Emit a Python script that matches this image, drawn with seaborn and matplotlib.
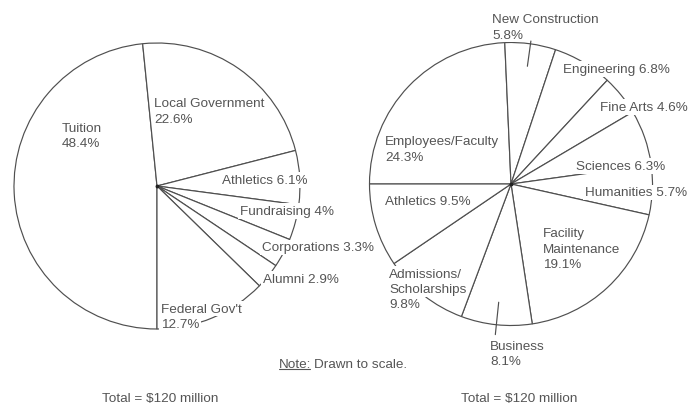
import matplotlib
matplotlib.use("Agg")
import matplotlib.pyplot as plt
import seaborn as sns
import numpy as np

# ---- data -------------------------------------------------------------
# Where the money comes from (percent of total)
income_names = ["Tuition", "Local Government", "Athletics", "Fundraising",
                "Corporations", "Alumni", "Federal Gov't"]
income_pct = [48.4, 22.6, 6.1, 4.0, 3.3, 2.9, 12.7]
income_sep = ["\n", "\n", " ", " ", " ", " ", "\n"]
income_total = 120  # $ million

# Where the money goes (percent of total)
expense_names = ["Employees/Faculty", "New Construction", "Engineering", "Fine Arts",
                 "Sciences", "Humanities", "Facility\nMaintenance", "Business",
                 "Admissions/\nScholarships", "Athletics"]
expense_pct = [24.3, 5.8, 6.8, 4.6, 6.3, 5.7, 19.1, 8.1, 9.8, 9.5]
expense_sep = ["\n", "\n", " ", " ", " ", " ", "\n", "\n", "\n", " "]
expense_total = 120  # $ million

# ---- layout (pixel positions, y measured from the top) ----------------
W, H = 690, 406
income_center, income_radius = (157, 187), 143
expense_center, expense_radius = (511, 185), 141.5

# left edge and vertical centre of each label block
income_label_pos = [(62, 136.5), (154, 112), (222, 181), (240, 212),
                    (262, 248.5), (263, 280), (161, 317.5)]
expense_label_pos = [(385, 150), (492, 28), (563, 70), (600, 108), (576, 167),
                     (585, 193.5), (543, 250), (490, 354.5), (389, 290), (385, 202)]
# radial leader ticks: slice index -> (inner, outer) fraction of the radius
expense_leaders = {1: (0.84, 1.02), 7: (0.84, 1.07)}

LINE = "#4f4f4f"
TEXT = "#555555"
FS = 9.7
ROW = 15.5  # row pitch of stacked label lines, pixels

sns.set_theme(style="white")
plt.rcParams["font.family"] = ["Liberation Sans", "DejaVu Sans"]


def up(y):
    """Convert a top-down pixel row into the axes' y-up coordinate."""
    return H - y


fig = plt.figure(figsize=(W / 100, H / 100), dpi=100)
ax = fig.add_axes([0, 0, 1, 1])


def label(x, yc, text):
    """Write a (possibly multi-row) label; each row gets its own white backing
    so it masks the outline it sits on without hiding neighbouring spokes."""
    rows = text.split("\n")
    n = len(rows)
    for k, row in enumerate(rows):
        y = yc + (k - (n - 1) / 2) * ROW
        ax.text(x, up(y), row, ha="left", va="center", fontsize=FS, color=TEXT,
                zorder=5,
                bbox=dict(boxstyle="square,pad=0.12", facecolor="white",
                          edgecolor="none"))


def draw_pie(values, names, seps, center, radius, start, label_pos, leaders):
    wedges, _ = ax.pie(values, startangle=start, counterclock=False,
                       center=(center[0], up(center[1])), radius=radius,
                       frame=False,
                       wedgeprops=dict(facecolor="white", edgecolor=LINE,
                                       linewidth=0.85, joinstyle="miter"))
    cx, cy = center[0], up(center[1])
    for i, (w, name, sep, val, pos) in enumerate(zip(wedges, names, seps, values, label_pos)):
        label(pos[0], pos[1], f"{name}{sep}{val:g}%")
        if i in leaders:
            r0, r1 = leaders[i]
            mid = np.deg2rad((w.theta1 + w.theta2) / 2)
            ax.plot([cx + r0 * radius * np.cos(mid), cx + r1 * radius * np.cos(mid)],
                    [cy + r0 * radius * np.sin(mid), cy + r1 * radius * np.sin(mid)],
                    color=LINE, lw=0.85, zorder=6)
    ax.plot([cx], [cy], marker="o", ms=1.8, color="#222222", zorder=4)
    return wedges


draw_pie(income_pct, income_names, income_sep, income_center, income_radius,
         270, income_label_pos, {})
draw_pie(expense_pct, expense_names, expense_sep, expense_center, expense_radius,
         180, expense_label_pos, expense_leaders)

ax.set_xlim(0, W)
ax.set_ylim(0, H)
ax.set_aspect("equal", adjustable="box")
ax.axis("off")

# Footnote with underlined "Note:"
note = ax.text(279, up(365), "Note:", ha="left", va="center", fontsize=FS, color=TEXT)
fig.canvas.draw()
renderer = fig.canvas.get_renderer()
bb = note.get_window_extent(renderer=renderer).transformed(ax.transData.inverted())
ax.plot([bb.x0, bb.x1 - 1], [bb.y0 + 1.5, bb.y0 + 1.5], color=TEXT, lw=0.8)
ax.text(bb.x1 + 3, up(365), "Drawn to scale.", ha="left", va="center",
        fontsize=FS, color=TEXT)

ax.text(160, up(399), f"Total = ${income_total} million", ha="center", va="center",
        fontsize=FS, color=TEXT)
ax.text(519, up(399), f"Total = ${expense_total} million", ha="center", va="center",
        fontsize=FS, color=TEXT)

fig.savefig("out.png", dpi=100, facecolor="white")
